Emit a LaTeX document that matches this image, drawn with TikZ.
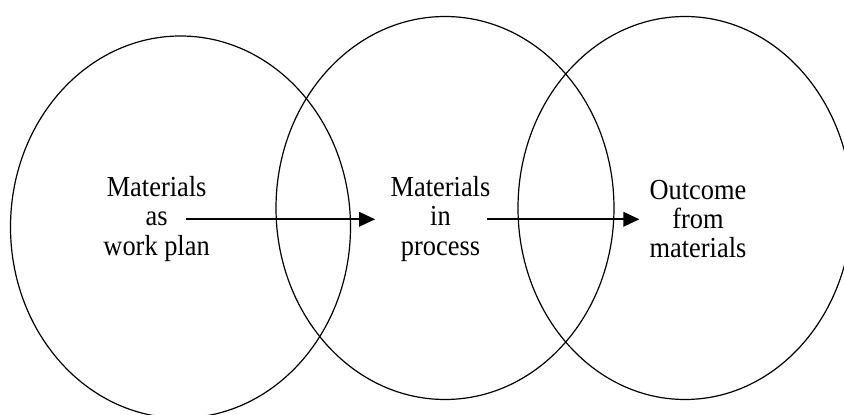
\documentclass[tikz,border=0pt]{standalone}
\usepackage{fontspec}
\setmainfont{Liberation Serif}[FakeStretch=0.91]
\usetikzlibrary{arrows.meta}
\begin{document}
\begin{tikzpicture}[x=1pt,y=1pt,
  ring/.style={draw=black,line width=1.2pt},
  label/.style={align=center,inner sep=0pt,font=\fontsize{29pt}{29.3pt}\selectfont},
  flow/.style={line width=2pt,-{Triangle[length=16pt,width=14.5pt]}}]
\useasboundingbox (0,0) rectangle (844,415);
% ellipses (y = 415 - image y)
\draw[ring] (180.5,188) ellipse [x radius=170, y radius=191];
\draw[ring] (445,207) ellipse [x radius=169, y radius=191.5];
\draw[ring] (685,207) ellipse [x radius=167, y radius=191.5];
% texts
\node[label] (plan) at (156.6,196) {Materials\\as\\work plan};
\node[label] (proc) at (440.5,196) {Materials\\in\\process};
\node[label] (outc) at (698,196) {Outcome\\from\\materials};
% arrows
\draw[flow] ([xshift=29.1pt,yshift=-0.3pt]plan.center) -- ([xshift=-65.4pt,yshift=-0.3pt]proc.center);
\draw[flow] ([xshift=46.5pt,yshift=-0.3pt]proc.center) -- ([xshift=-58.6pt,yshift=-0.3pt]outc.center);
\end{tikzpicture}
\end{document}
